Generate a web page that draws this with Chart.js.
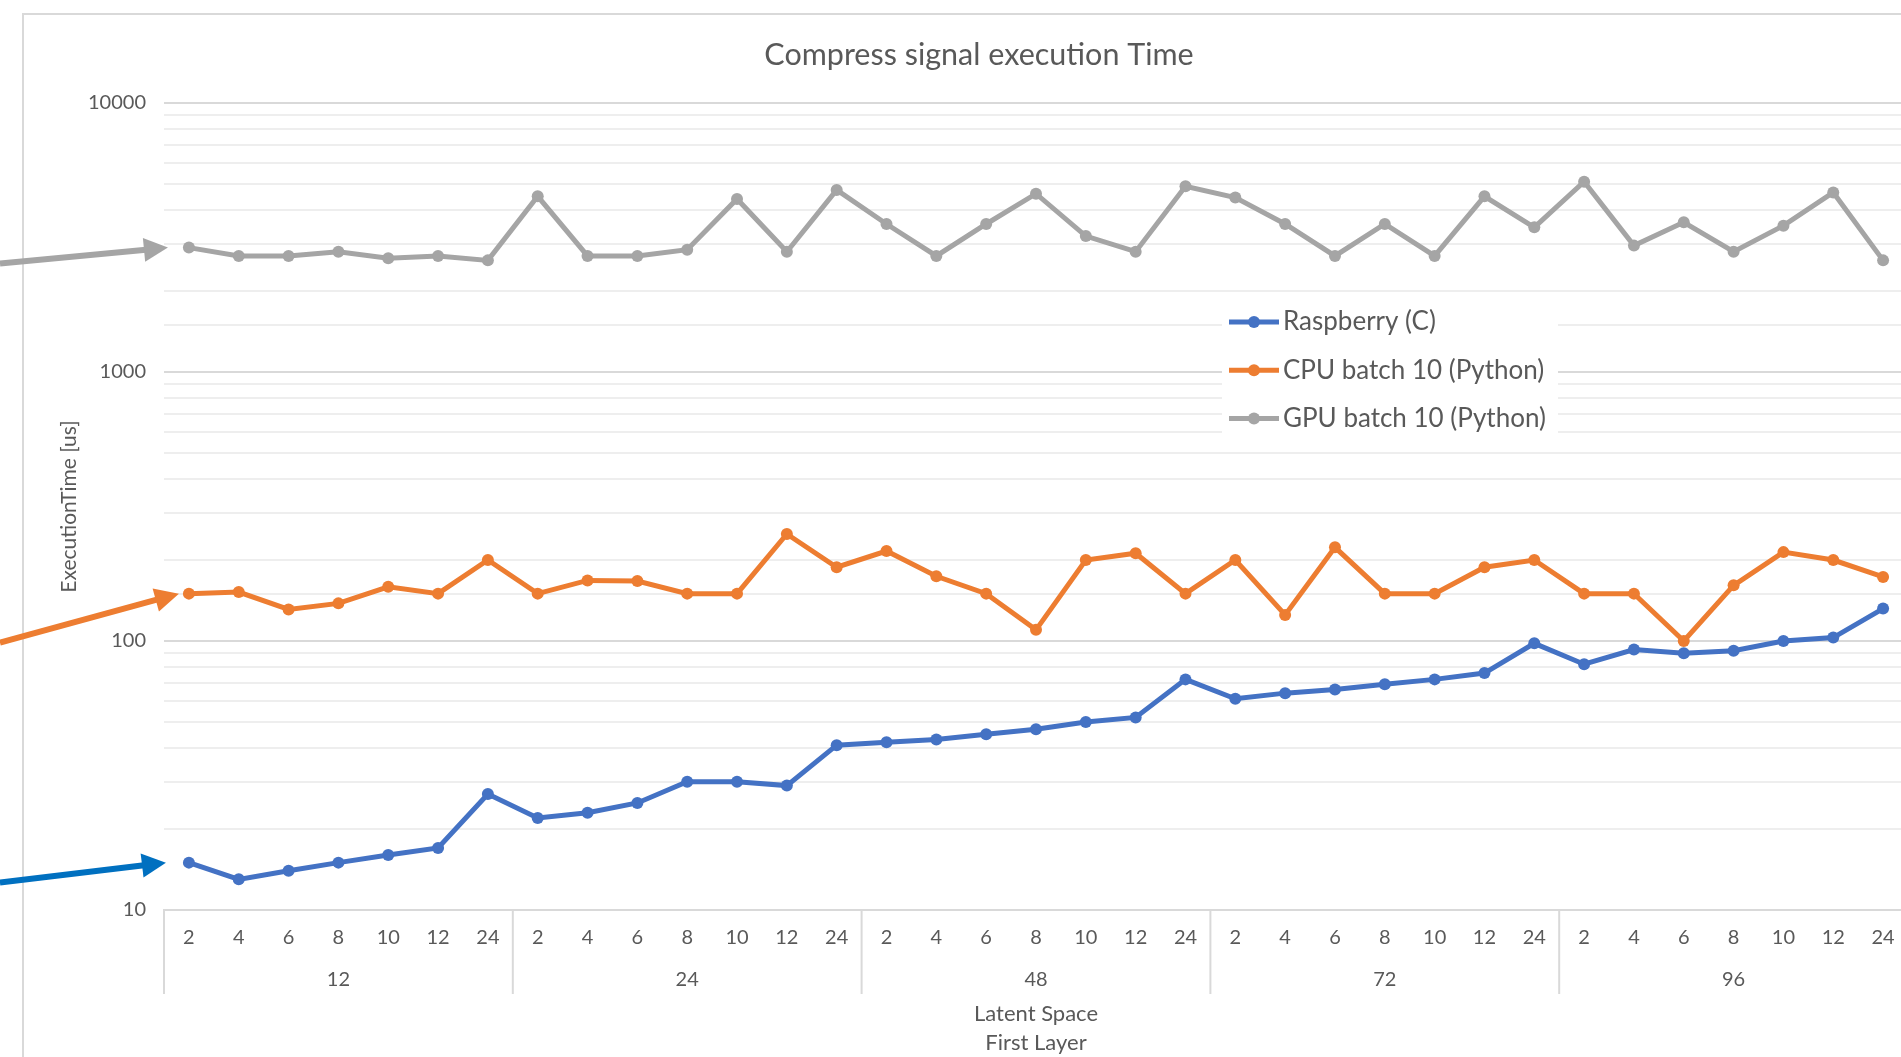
<!DOCTYPE html>
<html>
<head>
<meta charset="utf-8">
<title>Compress signal execution Time</title>
<script src="https://cdn.jsdelivr.net/npm/chart.js@4.4.1/dist/chart.umd.min.js"></script>
<style>
  html, body { margin: 0; padding: 0; background: #ffffff; overflow: hidden; }
  #wrap { position: relative; width: 1914px; height: 1057px; }
</style>
</head>
<body>
<div id="wrap"><canvas id="chart"></canvas></div>
<script>
// First layer sizes (inner axis level) and latent space sizes (outer axis level)
const firstLayer = ['2', '4', '6', '8', '10', '12', '24'];
const latentSpace = ['12', '24', '48', '72', '96'];
const categories = latentSpace.flatMap(() => firstLayer);

// Execution time in microseconds, one value per (latent space, first layer) pair
const raspberryC = [
  15, 13, 14, 15, 16, 17, 27,
  22, 23, 25, 30, 30, 29, 41,
  42, 43, 45, 47, 50, 52, 72,
  61, 64, 66, 69, 72, 76, 98,
  82, 93, 90, 92, 100, 103, 132
];
const cpuBatch10 = [
  150, 152, 131, 138, 159, 150, 200,
  150, 168, 167, 150, 150, 250, 188,
  216, 174, 150, 110, 200, 212, 150,
  200, 125, 223, 150, 150, 188, 200,
  150, 150, 100, 161, 214, 200, 173
];
const gpuBatch10 = [
  2900, 2700, 2700, 2800, 2650, 2700, 2600,
  4500, 2700, 2700, 2850, 4400, 2800, 4750,
  3550, 2700, 3550, 4600, 3200, 2800, 4900,
  4450, 3550, 2700, 3550, 2700, 4500, 3450,
  5100, 2950, 3600, 2800, 3500, 4650, 2600
];

// Labelled ticks on the logarithmic value axis
const yMajorTicks = [10, 100, 1000, 10000];
const yTickLabels = ['10', '100', '1000', '10000'];

const TEXT = '#595959';
const FONT = 'Lato';
const seriesColors = ['#4472c4', '#ed7d31', '#a5a5a5'];
const arrowColors = ['#0070c0', '#ed7d31', '#a5a5a5'];

function isMajor(v) {
  return yMajorTicks.some(m => Math.abs(m - v) < 1e-6 * m);
}

function drawArrow(ctx, tail, tip, color) {
  const dx = tip.x - tail.x, dy = tip.y - tail.y;
  const len = Math.hypot(dx, dy);
  const ux = dx / len, uy = dy / len;
  const nx = -uy, ny = ux;
  const headL = 24, headW = 12;
  const bx = tip.x - ux * headL, by = tip.y - uy * headL;
  ctx.save();
  ctx.strokeStyle = color;
  ctx.fillStyle = color;
  ctx.lineWidth = 6;
  ctx.beginPath();
  ctx.moveTo(tail.x, tail.y);
  ctx.lineTo(bx + ux * 2, by + uy * 2);
  ctx.stroke();
  ctx.beginPath();
  ctx.moveTo(tip.x, tip.y);
  ctx.lineTo(bx + nx * headW, by + ny * headW);
  ctx.lineTo(bx - nx * headW, by - ny * headW);
  ctx.closePath();
  ctx.fill();
  ctx.restore();
}

const decorations = {
  id: 'decorations',
  beforeDraw(chart) {
    const ctx = chart.ctx;
    ctx.save();
    // chart frame
    ctx.strokeStyle = '#d9d9d9';
    ctx.lineWidth = 2;
    ctx.strokeRect(23, 14, 3000, 3000);
    // title
    ctx.fillStyle = TEXT;
    ctx.font = `30.5px ${FONT}`;
    ctx.textAlign = 'center';
    ctx.textBaseline = 'middle';
    ctx.fillText('Compress signal execution Time', 979, 55);
    ctx.restore();
  },
  afterDatasetsDraw(chart) {
    const ctx = chart.ctx;
    // callout arrows pointing at the first point of each series
    const arrowSpec = [
      { back: 23, drop: 20 },
      { back: 10, drop: 49 },
      { back: 21, drop: 16 }
    ];
    chart.data.datasets.forEach((ds, i) => {
      const p = chart.getDatasetMeta(i).data[0];
      const tip = { x: p.x - arrowSpec[i].back, y: p.y };
      const tail = { x: 0, y: p.y + arrowSpec[i].drop };
      drawArrow(ctx, tail, tip, arrowColors[i]);
    });
  },
  afterDraw(chart) {
    const ctx = chart.ctx;
    const xs = chart.scales.x;
    const area = chart.chartArea;
    const n = firstLayer.length;
    ctx.save();
    // outer category level: separators and group labels
    ctx.strokeStyle = '#d9d9d9';
    ctx.lineWidth = 2;
    for (let g = 0; g <= latentSpace.length; g++) {
      const idx = g * n;
      let px;
      if (idx === 0) px = area.left;
      else if (idx >= categories.length) px = area.right;
      else px = (xs.getPixelForValue(idx - 1) + xs.getPixelForValue(idx)) / 2;
      ctx.beginPath();
      ctx.moveTo(px, area.bottom);
      ctx.lineTo(px, area.bottom + 84);
      ctx.stroke();
    }
    ctx.fillStyle = TEXT;
    ctx.font = `20px ${FONT}`;
    ctx.textAlign = 'center';
    ctx.textBaseline = 'middle';
    latentSpace.forEach((lbl, g) => {
      const a = xs.getPixelForValue(g * n);
      const b = xs.getPixelForValue(g * n + n - 1);
      ctx.fillText(lbl, (a + b) / 2, area.bottom + 70);
    });

    // legend
    const lx = 1222, ly = 296, lw = 336, lh = 148;
    ctx.fillStyle = '#ffffff';
    ctx.fillRect(lx, ly, lw, lh);
    ctx.font = `26px ${FONT}`;
    ctx.textAlign = 'left';
    chart.data.datasets.forEach((ds, i) => {
      const y = 322 + i * 48.3;
      ctx.strokeStyle = ds.borderColor;
      ctx.lineWidth = 5;
      ctx.beginPath();
      ctx.moveTo(1229, y);
      ctx.lineTo(1279, y);
      ctx.stroke();
      ctx.fillStyle = ds.borderColor;
      ctx.beginPath();
      ctx.arc(1254, y, 6, 0, Math.PI * 2);
      ctx.fill();
      ctx.fillStyle = TEXT;
      ctx.fillText(ds.label, 1283, y);
    });
    ctx.restore();
  }
};

const makeSeries = (label, data, color) => ({
  label,
  data,
  borderColor: color,
  backgroundColor: color,
  borderWidth: 5,
  pointRadius: 6,
  pointBorderWidth: 0,
  pointBackgroundColor: color,
  tension: 0
});

new Chart(document.getElementById('chart'), {
  type: 'line',
  data: {
    labels: categories,
    datasets: [
      makeSeries('Raspberry (C)', raspberryC, seriesColors[0]),
      makeSeries('CPU batch 10 (Python)', cpuBatch10, seriesColors[1]),
      makeSeries('GPU batch 10 (Python)', gpuBatch10, seriesColors[2])
    ]
  },
  options: {
    responsive: true,
    maintainAspectRatio: false,
    animation: false,
    layout: { padding: { top: 103, right: 5, bottom: 0, left: 0 } },
    plugins: {
      legend: { display: false },
      title: { display: false },
      tooltip: { enabled: false }
    },
    scales: {
      x: {
        type: 'category',
        offset: true,
        grid: { display: false, drawTicks: false },
        border: { display: true, color: '#d9d9d9', width: 2 },
        ticks: {
          autoSkip: false,
          maxRotation: 0,
          color: TEXT,
          font: { family: FONT, size: 20 },
          padding: 16
        },
        title: {
          display: true,
          text: ['Latent Space', 'First Layer'],
          color: TEXT,
          font: { family: FONT, size: 22, lineHeight: 1.32 },
          padding: { top: 0, bottom: 0 }
        },
        afterFit(scale) { scale.height = 147; }
      },
      y: {
        type: 'logarithmic',
        min: 10,
        max: 10000,
        grid: {
          drawTicks: false,
          lineWidth: 2,
          color: c => isMajor(c.tick.value) ? '#d9d9d9' : '#eeeeee'
        },
        border: { display: false },
        ticks: {
          autoSkip: false,
          color: TEXT,
          font: { family: FONT, size: 20 },
          padding: 18,
          callback: v => {
            const k = yMajorTicks.findIndex(m => Math.abs(m - v) < 1e-6 * m);
            return k >= 0 ? yTickLabels[k] : '';
          }
        },
        title: {
          display: true,
          text: 'ExecutionTime [us]',
          color: TEXT,
          font: { family: FONT, size: 21 },
          padding: { top: 57, bottom: 0 }
        },
        afterFit(scale) { scale.width = 164; }
      }
    }
  },
  plugins: [decorations]
});
</script>
</body>
</html>
